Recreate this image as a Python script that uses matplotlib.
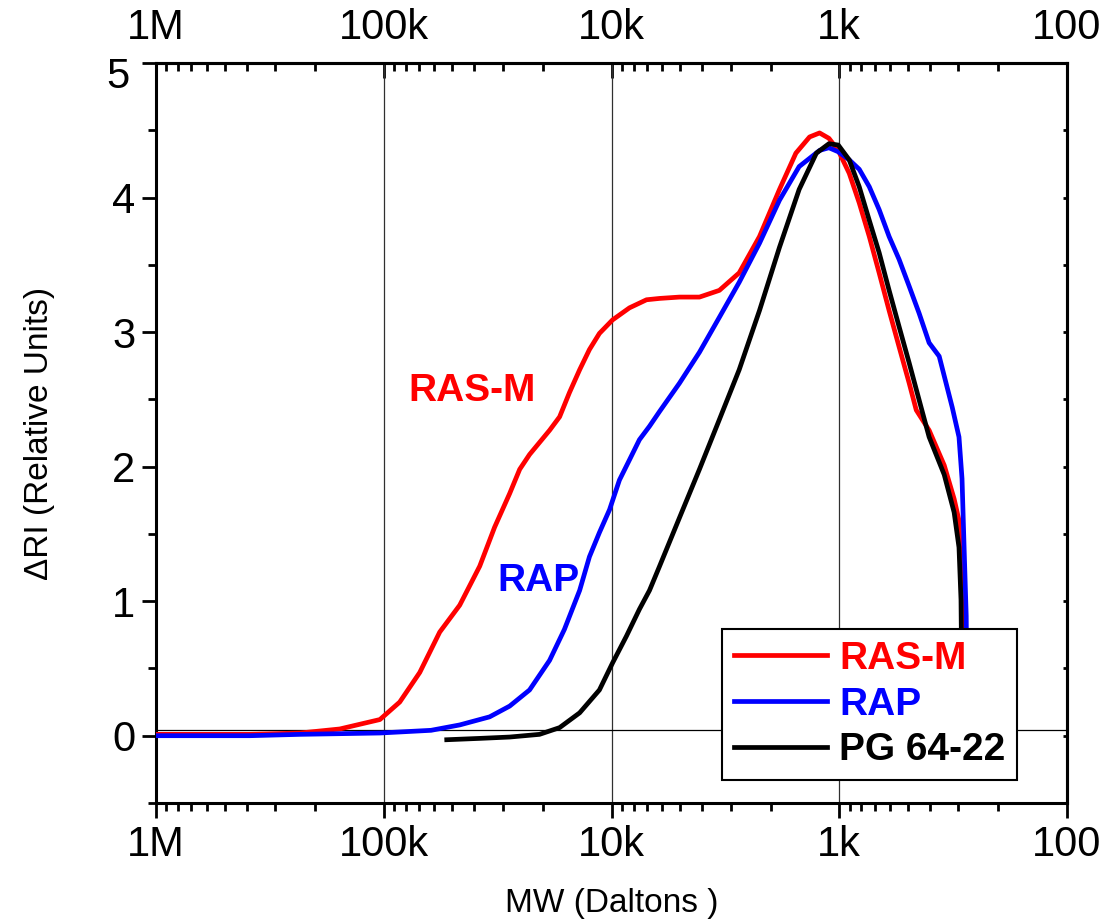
import numpy as np
import matplotlib
matplotlib.use("Agg")
import matplotlib.pyplot as plt

plt.rcParams['font.family'] = ['Liberation Sans', 'DejaVu Sans']

# data (MW in Daltons, dRI in relative units)
rasm_mw = [1e6, 387e3, 233e3, 156e3, 104e3, 85.1e3, 69.5e3, 56.8e3, 46.4e3, 37.9e3,
           32.6e3, 28e3, 25.3e3, 22.9e3, 18.7e3, 16.9e3, 15.3e3, 13.8e3, 12.5e3, 11.3e3,
           9.9e3, 8.34e3, 7.02e3, 6.15e3, 5.03e3, 4.11e3, 3.36e3, 2.75e3, 2.24e3, 1.83e3,
           1.55e3, 1.35e3, 1.22e3, 1.11e3, 1.01e3, 904, 817, 738, 668, 604,
           546, 493, 459, 403, 346, 313, 298, 292, 287, 283]
rasm_ri = [0.01, 0.01, 0.02, 0.05, 0.12, 0.25, 0.47, 0.77, 0.97, 1.26,
           1.55, 1.80, 1.98, 2.09, 2.27, 2.37, 2.55, 2.72, 2.87, 2.99,
           3.09, 3.18, 3.24, 3.25, 3.26, 3.26, 3.31, 3.44, 3.71, 4.06,
           4.33, 4.45, 4.48, 4.44, 4.35, 4.18, 3.96, 3.71, 3.44, 3.16,
           2.89, 2.62, 2.42, 2.27, 2.01, 1.76, 1.60, 1.2, 0.6, 0.0]

rap_mw = [1e6, 387e3, 233e3, 104e3, 62e3, 46.4e3, 34.3e3, 28e3, 22.9e3, 18.7e3,
          16.1e3, 13.8e3, 12.5e3, 11.3e3, 10.2e3, 9.23e3, 8.34e3, 7.54e3, 6.81e3, 6.15e3,
          5.03e3, 4.11e3, 3.36e3, 2.75e3, 2.24e3, 1.83e3, 1.5e3, 1.22e3, 1.11e3, 1.01e3,
          904, 817, 738, 668, 604, 546, 493, 446, 403, 364,
          319, 298, 289, 283, 277, 274]
rap_ri = [0.0, 0.0, 0.01, 0.02, 0.04, 0.08, 0.14, 0.22, 0.34, 0.56,
          0.79, 1.08, 1.33, 1.51, 1.68, 1.90, 2.05, 2.20, 2.30, 2.41,
          2.62, 2.85, 3.11, 3.37, 3.66, 3.98, 4.23, 4.35, 4.37, 4.34,
          4.28, 4.21, 4.08, 3.91, 3.71, 3.54, 3.34, 3.14, 2.92, 2.82,
          2.44, 2.22, 1.91, 1.40, 0.89, 0.0]

pg_mw = [52.9e3, 37.9e3, 28e3, 20.7e3, 16.9e3, 13.8e3, 11.3e3, 9.9e3, 8.6e3, 7.54e3,
         6.81e3, 6.15e3, 5.03e3, 4.11e3, 3.36e3, 2.75e3, 2.24e3, 1.83e3, 1.5e3, 1.26e3,
         1.11e3, 1.01e3, 904, 817, 738, 668, 604, 546, 493, 437,
         403, 346, 313, 298, 292, 288]
pg_ri = [-0.03, -0.02, -0.01, 0.01, 0.06, 0.17, 0.34, 0.54, 0.74, 0.94,
         1.08, 1.26, 1.62, 1.98, 2.35, 2.72, 3.16, 3.63, 4.06, 4.33,
         4.40, 4.39, 4.28, 4.08, 3.83, 3.59, 3.31, 3.04, 2.77, 2.44,
         2.22, 1.94, 1.66, 1.40, 1.01, 0.0]

x_ticks = [1e6, 1e5, 1e4, 1e3, 1e2]
x_labels = ['1M', '100k', '10k', '1k', '100']
y_ticks = [0, 1, 2, 3, 4, 5]
y_labels = ['0', '1', '2', '3', '4', '']

fig = plt.figure(figsize=(11.05, 9.22), dpi=100)
ax = fig.add_axes([0.1412, 0.1291, 0.8244, 0.8026])

ax.plot(rasm_mw, rasm_ri, color='#ff0000', lw=3.4, label='RAS-M', zorder=3)
ax.plot(rap_mw, rap_ri, color='#0000ff', lw=3.4, label='RAP', zorder=4)
ax.plot(pg_mw, pg_ri, color='black', lw=3.4, label='PG 64-22', zorder=5)

for g in [1e5, 1e4, 1e3]:
    ax.axvline(g, color='#303030', lw=0.9, zorder=1)
ax.axhline(0.045, color='black', lw=0.9, zorder=1)

ax.set_xscale('log')
ax.set_xlim(1e6, 1e2)
ax.set_ylim(-0.5, 5)

for s in ax.spines.values():
    s.set_linewidth(2.2)

ax.set_xticks(x_ticks)
ax.set_xticklabels(x_labels)
ax.tick_params(axis='x', which='major', direction='out', length=11, width=2, labelsize=30, pad=5)
ax.tick_params(axis='x', which='minor', direction='out', length=6, width=2)

ax.set_yticks(y_ticks)
ax.set_yticklabels(y_labels)
ax.set_yticks(np.arange(-0.5, 5.01, 0.5), minor=True)
ax.tick_params(axis='y', which='major', direction='out', length=10, width=2, labelsize=30, pad=5)
ax.tick_params(axis='y', which='minor', direction='out', length=6, width=2)
ax.annotate('5', xy=(0, 5), xycoords=('axes fraction', 'data'), xytext=(-19, -10),
            textcoords='offset points', ha='right', va='center', fontsize=30)

top = ax.secondary_xaxis('top')
top.set_xticks(x_ticks)
top.set_xticklabels(x_labels)
top.tick_params(axis='x', which='major', direction='in', length=11, width=2, labelsize=30, pad=11)
top.tick_params(axis='x', which='minor', direction='in', length=6, width=2)
top.spines['top'].set_linewidth(2.2)

right = ax.secondary_yaxis('right')
right.set_yticks(np.arange(-0.5, 5.01, 0.5))
right.set_yticklabels([])
right.tick_params(axis='y', which='both', direction='in', length=3, width=2)
right.spines['right'].set_linewidth(2.2)

ax.set_xlabel('MW (Daltons )', fontsize=24)
ax.set_ylabel('\u0394RI (Relative Units)', fontsize=24)
ax.xaxis.set_label_coords(0.5, -0.115)
ax.yaxis.set_label_coords(-0.111, 0.5)

ax.text(41e3, 2.56, 'RAS-M', color='#ff0000', fontsize=28, fontweight='bold',
        ha='center', va='center')
ax.text(21e3, 1.15, 'RAP', color='#0000ff', fontsize=28, fontweight='bold',
        ha='center', va='center')

leg = ax.legend(loc='lower right', bbox_to_anchor=(0.945, 0.031), borderaxespad=0,
                prop={'weight': 'bold', 'size': 28}, fancybox=False,
                framealpha=1, edgecolor='black', handlelength=2.4, handletextpad=0.3,
                labelspacing=0.25, borderpad=0.3)
leg.get_frame().set_linewidth(1.5)
for txt, ln in zip(leg.get_texts(), leg.get_lines()):
    txt.set_color(ln.get_color())
leg.set_zorder(10)

fig.savefig('out.png', dpi=100)
